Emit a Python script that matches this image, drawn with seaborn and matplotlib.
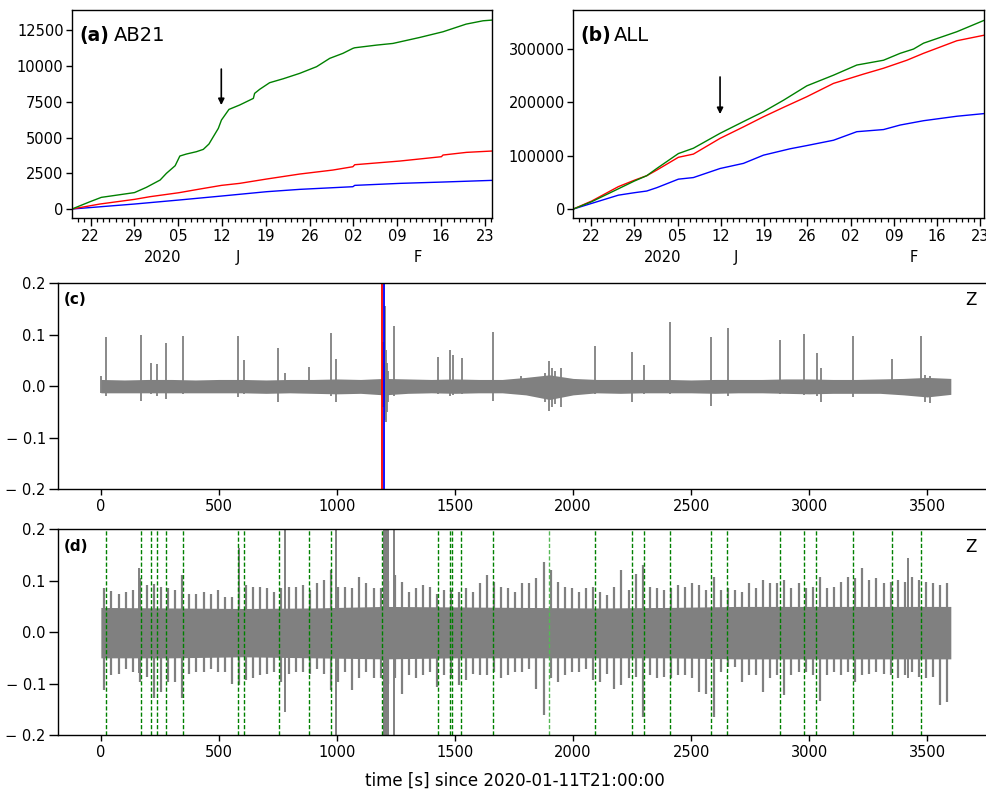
import numpy as np
import pandas as pd
import matplotlib
matplotlib.use("Agg")
import matplotlib.pyplot as plt
import matplotlib.dates as mdates
import seaborn as sns

sns.set_style("ticks")
plt.rcParams["font.family"] = ["DejaVu Sans"]
plt.rcParams["axes.linewidth"] = 1.0
for key in ("axes.edgecolor", "text.color", "axes.labelcolor", "xtick.color", "ytick.color"):
    plt.rcParams[key] = "black"

# ---------------------------------------------------------------------------
# Cumulative event counts; times are days after 2019-12-19 00:00
# ---------------------------------------------------------------------------
BASE = pd.Timestamp("2019-12-19")
ORIGIN_DAY = 23.875  # 2020-01-11T21:00:00

ab21_green_day = [0, 2.9, 4.7, 10.0, 11.9, 14.1, 15.1, 16.5, 17.25, 18.3, 19.9, 21.0,
                  21.9, 22.6, 23.4, 23.9, 25.1, 26.8, 29.0, 29.2, 30.0, 31.6, 33.8,
                  36.4, 39.1, 41.2, 43.3, 44.9, 45.2, 48.7, 51.3, 55.6, 59.3, 63.0,
                  65.7, 67.12]
ab21_green = [0, 513, 816, 1150, 1516, 2029, 2495, 3030, 3708, 3848, 4011, 4174,
              4547, 5060, 5643, 6226, 6970, 7275, 7742, 8092, 8372, 8838, 9118,
              9491, 9958, 10541, 10890, 11240, 11282, 11469, 11585, 12005, 12401,
              12937, 13170, 13217]
ab21_red_day = [0, 4.47, 10.0, 12.46, 17.1, 20.45, 23.9, 26.8, 31.1, 36.4, 41.7,
                44.9, 45.2, 52.4, 59.05, 59.3, 63.05, 67.12]
ab21_red = [0, 350, 676, 862, 1142, 1399, 1655, 1795, 2098, 2448, 2727, 2960,
            3100, 3357, 3661, 3778, 3964, 4058]
ab21_blue_day = [0, 10.0, 17.1, 23.9, 31.1, 36.4, 44.9, 45.2, 52.4, 59.3, 67.12]
ab21_blue = [0, 350, 630, 909, 1212, 1376, 1562, 1655, 1795, 1889, 2005]

all_green_day = [0.13, 3.10, 10.01, 12.01, 13.63, 17.13, 19.56, 23.88, 27.66, 30.9,
                 34.14, 37.92, 42.24, 46.01, 50.33, 53.03, 55.19, 56.81, 62.21, 66.65]
all_green = [0, 13750, 52500, 62500, 76000, 104000, 114000, 142000, 164000, 182500,
             204000, 231000, 251000, 270000, 279000, 292000, 300000, 311000, 332500,
             354000]
all_red_day = [0.13, 3.10, 7.42, 10.01, 12.01, 13.63, 17.13, 19.56, 23.88, 27.66,
               30.9, 34.14, 37.92, 42.24, 47.09, 50.33, 54.11, 56.81, 62.21, 66.65]
all_red = [0, 15000, 42000, 54000, 62500, 73000, 97000, 103000, 132500, 154000,
           173000, 190600, 210600, 235600, 253000, 264000, 279000, 292000, 315600,
           326000]
all_blue_day = [0.13, 3.10, 7.42, 10.01, 12.01, 13.63, 17.13, 19.56, 23.88, 27.66,
                30.9, 35.22, 37.92, 42.24, 46.01, 50.33, 53.03, 56.81, 62.21, 66.65]
all_blue = [0, 10600, 26000, 30600, 33750, 40000, 56000, 59000, 76000, 85600,
            101000, 113000, 119000, 129000, 145000, 149000, 157500, 165600, 174000,
            179000]

# ---------------------------------------------------------------------------
# Vertical-component trace, panel (c): background band, impulsive arrivals
# ---------------------------------------------------------------------------
c_band_t = list(range(0, 3601, 100))
c_band_hi = [0.013, 0.012, 0.013, 0.013, 0.012, 0.013, 0.013, 0.012, 0.013, 0.013,
             0.014, 0.013, 0.015, 0.014, 0.013, 0.014, 0.013, 0.013, 0.017, 0.022,
             0.015, 0.013, 0.013, 0.013, 0.013, 0.012, 0.013, 0.013, 0.013, 0.014,
             0.014, 0.013, 0.013, 0.014, 0.015, 0.017, 0.015]
c_band_lo = [-0.013, -0.013, -0.013, -0.013, -0.013, -0.013, -0.013, -0.014, -0.013, -0.014,
             -0.015, -0.014, -0.017, -0.014, -0.013, -0.014, -0.013, -0.013, -0.017, -0.026,
             -0.017, -0.013, -0.014, -0.013, -0.013, -0.013, -0.014, -0.013, -0.013, -0.014,
             -0.015, -0.014, -0.014, -0.014, -0.017, -0.021, -0.016]
c_spike_t = [2, 21, 169, 213, 236, 277, 350, 583, 608, 752, 782, 882, 974, 998,
             1193, 1202, 1206, 1210, 1215, 1240, 1426, 1478, 1490, 1528, 1663, 1778,
             1880, 1897, 1910, 1925, 1951, 2091, 2250, 2300, 2411, 2585, 2656, 2877,
             2978, 3033, 3050, 3185, 3350, 3472, 3490, 3510]
c_spike_hi = [0.02, 0.095, 0.099, 0.045, 0.043, 0.083, 0.098, 0.098, 0.05, 0.074,
              0.026, 0.037, 0.103, 0.053, 0.085, 0.155, 0.07, 0.045, 0.03, 0.116,
              0.057, 0.07, 0.061, 0.054, 0.106, 0.02, 0.025, 0.049, 0.035, 0.03,
              0.035, 0.078, 0.067, 0.041, 0.124, 0.095, 0.114, 0.09, 0.101, 0.064,
              0.035, 0.097, 0.053, 0.098, 0.022, 0.02]
c_spike_lo = [-0.014, -0.02, -0.028, -0.015, -0.02, -0.025, -0.015, -0.022, -0.015, -0.03,
              -0.012, -0.012, -0.02, -0.03, -0.04, -0.065, -0.07, -0.05, -0.03, -0.02,
              -0.015, -0.02, -0.018, -0.015, -0.028, -0.012, -0.03, -0.049, -0.04, -0.035,
              -0.04, -0.015, -0.03, -0.015, -0.015, -0.038, -0.02, -0.015, -0.018, -0.02,
              -0.031, -0.022, -0.015, -0.02, -0.03, -0.033]
c_pick_red = 1191
c_pick_blue = 1199

# ---------------------------------------------------------------------------
# Panel (d): amplified trace; 30-s peak amplitudes, dense core and picks
# ---------------------------------------------------------------------------
d_core_t = list(range(0, 3601, 300))
d_core_hi = [0.048, 0.047, 0.046, 0.047, 0.05, 0.049, 0.048, 0.047, 0.048, 0.05, 0.05, 0.05, 0.05]
d_core_lo = [-0.05, -0.05, -0.048, -0.05, -0.052, -0.05, -0.05, -0.05, -0.05, -0.052,
             -0.052, -0.052, -0.052]
d_peak_t = list(range(15, 3600, 30))
d_peak_hi = [0.085, 0.080, 0.075, 0.079, 0.082, 0.105, 0.092, 0.093, 0.088, 0.085,
             0.082, 0.111, 0.075, 0.075, 0.079, 0.075, 0.082, 0.069, 0.069, 0.088,
             0.092, 0.088, 0.088, 0.085, 0.079, 0.085, 0.088, 0.088, 0.092, 0.082,
             0.095, 0.101, 0.121, 0.088, 0.088, 0.085, 0.108, 0.095, 0.085, 0.085,
             0.100, 0.111, 0.098, 0.079, 0.085, 0.092, 0.088, 0.075, 0.082, 0.082,
             0.079, 0.085, 0.079, 0.095, 0.111, 0.098, 0.088, 0.085, 0.079, 0.095,
             0.095, 0.105, 0.137, 0.121, 0.098, 0.088, 0.085, 0.079, 0.085, 0.088,
             0.079, 0.072, 0.088, 0.121, 0.082, 0.114, 0.131, 0.088, 0.085, 0.082,
             0.085, 0.092, 0.088, 0.095, 0.092, 0.082, 0.108, 0.082, 0.085, 0.082,
             0.079, 0.095, 0.085, 0.101, 0.095, 0.095, 0.101, 0.085, 0.095, 0.085,
             0.088, 0.108, 0.085, 0.088, 0.098, 0.108, 0.105, 0.124, 0.101, 0.105,
             0.095, 0.098, 0.101, 0.098, 0.108, 0.101, 0.098, 0.095, 0.092, 0.095]
d_peak_lo = [-0.113, -0.084, -0.081, -0.071, -0.077, -0.097, -0.087, -0.129, -0.116, -0.097,
             -0.097, -0.129, -0.081, -0.077, -0.077, -0.071, -0.077, -0.077, -0.100, -0.103,
             -0.094, -0.090, -0.084, -0.081, -0.077, -0.097, -0.081, -0.077, -0.077, -0.081,
             -0.071, -0.081, -0.113, -0.097, -0.077, -0.113, -0.090, -0.077, -0.090, -0.090,
             -0.100, -0.090, -0.120, -0.084, -0.090, -0.084, -0.077, -0.107, -0.084, -0.090,
             -0.103, -0.094, -0.081, -0.084, -0.084, -0.077, -0.090, -0.084, -0.077, -0.077,
             -0.071, -0.110, -0.162, -0.090, -0.097, -0.084, -0.077, -0.077, -0.071, -0.094,
             -0.097, -0.081, -0.110, -0.103, -0.090, -0.087, -0.165, -0.084, -0.090, -0.087,
             -0.090, -0.084, -0.084, -0.090, -0.116, -0.120, -0.165, -0.077, -0.068, -0.068,
             -0.097, -0.084, -0.084, -0.116, -0.090, -0.084, -0.123, -0.084, -0.077, -0.077,
             -0.084, -0.133, -0.084, -0.077, -0.084, -0.077, -0.097, -0.084, -0.081, -0.077,
             -0.081, -0.084, -0.090, -0.084, -0.077, -0.087, -0.090, -0.087, -0.142, -0.136]
d_big_t = [162, 584, 780, 998, 1241, 3417]
d_big_hi = [0.124, 0.163, 0.25, 0.25, 0.25, 0.144]
d_big_lo = [-0.08, -0.10, -0.155, -0.25, -0.25, -0.09]
d_event = (1193, 1222)
d_pick_t = [21, 170, 213, 236, 277, 350, 583, 607, 753, 882, 974, 1191, 1426, 1478,
            1489, 1526, 1663, 2092, 2250, 2300, 2411, 2584, 2654, 2877, 2978, 3031,
            3185, 3350, 3473]
d_pick_faint_t = [1898]

TRACE = "#808080"
TICK_FS = 10.5

fig = plt.figure(figsize=(9.87, 7.92), dpi=100)
ax_a = fig.add_axes([0.0729, 0.7247, 0.4255, 0.2626])
ax_b = fig.add_axes([0.5809, 0.7247, 0.4164, 0.2626])
ax_c = fig.add_axes([0.0591, 0.3826, 0.9473, 0.2597])
ax_d = fig.add_axes([0.0591, 0.0720, 0.9473, 0.2597])


def to_dates(days):
    return BASE + pd.to_timedelta(np.asarray(days, dtype=float), unit="D")


def counts_frame(parts):
    frames = [pd.DataFrame({"date": to_dates(d), "count": v, "series": n})
              for n, d, v in parts]
    return pd.concat(frames, ignore_index=True)


def cumulative_panel(ax, parts, xlim_days, ylim, yticks, tag, name, arrow_vals):
    df = counts_frame(parts)
    sns.lineplot(data=df, x="date", y="count", hue="series",
                 palette={"green": "green", "red": "red", "blue": "blue"},
                 hue_order=["blue", "red", "green"], estimator=None, sort=False,
                 linewidth=1.0, legend=False, ax=ax)
    lo, hi = to_dates(xlim_days)
    ax.set_xlim(lo, hi)
    ax.set_ylim(*ylim)
    ax.set_yticks(yticks)
    ax.set_xlabel("")
    ax.set_ylabel("")
    ax.xaxis.set_major_locator(mdates.WeekdayLocator(byweekday=mdates.SU))
    ax.xaxis.set_major_formatter(mdates.DateFormatter("%d"))
    ax.xaxis.set_minor_locator(mdates.DayLocator())
    ax.tick_params(axis="x", which="major", direction="out", length=5.5, width=1,
                   pad=2.2, labelsize=TICK_FS)
    ax.tick_params(axis="x", which="minor", direction="out", length=3, width=0.9)
    ax.tick_params(axis="y", which="major", direction="out", length=4.5, width=1,
                   pad=1.5, labelsize=TICK_FS)
    tr = ax.get_xaxis_transform()
    for label, day in (("2020", 14.5), ("J", 26.45), ("F", 55.2)):
        ax.text(mdates.date2num(to_dates([day])[0]), -0.192, label, transform=tr,
                ha="center", va="center", fontsize=TICK_FS)
    ax.text(0.018, 0.88, tag, transform=ax.transAxes, fontsize=13.5,
            fontweight="bold", va="center", ha="left")
    ax.text(0.099, 0.88, name, transform=ax.transAxes, fontsize=14,
            va="center", ha="left")
    xa = mdates.date2num(to_dates([ORIGIN_DAY])[0])
    ax.annotate("", xy=(xa, arrow_vals[1]), xytext=(xa, arrow_vals[0]),
                arrowprops=dict(arrowstyle="-|>", color="black", lw=1.2,
                                mutation_scale=9, shrinkA=0, shrinkB=0))


cumulative_panel(ax_a,
                 [("green", ab21_green_day, ab21_green),
                  ("red", ab21_red_day, ab21_red),
                  ("blue", ab21_blue_day, ab21_blue)],
                 [0.01, 67.12], (-630, 13920),
                 [0, 2500, 5000, 7500, 10000, 12500], "(a)", "AB21", (9790, 7270))
cumulative_panel(ax_b,
                 [("green", all_green_day, all_green),
                  ("red", all_red_day, all_red),
                  ("blue", all_blue_day, all_blue)],
                 [0.13, 66.65], (-16900, 373100),
                 [0, 100000, 200000, 300000], "(b)", "ALL", (247600, 178000))

# ---- seismogram panels ----
for ax in (ax_c, ax_d):
    ax.set_xlim(-180, 3780)
    ax.set_ylim(-0.2, 0.2)
    ax.set_xticks([0, 500, 1000, 1500, 2000, 2500, 3000, 3500])
    ax.set_yticks([-0.2, -0.1, 0.0, 0.1, 0.2])
    ax.set_yticklabels(["\u2212 0.2", "\u2212 0.1", "0.0", "0.1", "0.2"])
    ax.tick_params(axis="x", direction="out", length=4.5, width=1, pad=3,
                   labelsize=TICK_FS)
    ax.tick_params(axis="y", direction="out", length=6.5, width=1, pad=2.5,
                   labelsize=TICK_FS)

ax_c.fill_between(c_band_t, c_band_lo, c_band_hi, color=TRACE, lw=0)
ax_c.vlines(c_spike_t, c_spike_lo, c_spike_hi, color=TRACE, lw=1.3)
ax_c.axvline(c_pick_red, color="red", lw=1.3)
ax_c.axvline(c_pick_blue, color="blue", lw=1.3)
ax_c.text(0.006, 0.919, "(c)", transform=ax_c.transAxes, fontsize=11,
          fontweight="bold", va="center", ha="left")
ax_c.text(0.976, 0.919, "Z", transform=ax_c.transAxes, fontsize=12,
          va="center", ha="center")

ax_d.fill_between(d_core_t, d_core_lo, d_core_hi, color=TRACE, lw=0)
ax_d.vlines(d_peak_t, d_peak_lo, d_peak_hi, color=TRACE, lw=1.6)
ax_d.vlines(d_big_t, d_big_lo, d_big_hi, color=TRACE, lw=1.4)
ax_d.axvspan(*d_event, color=TRACE, lw=0)
for t in d_pick_t:
    ax_d.axvline(t, color="green", lw=1.0, ls=(0, (3, 1.5)))
for t in d_pick_faint_t:
    ax_d.axvline(t, color="#55b855", lw=1.0, ls=(0, (3, 1.5)))
ax_d.text(0.006, 0.914, "(d)", transform=ax_d.transAxes, fontsize=11,
          fontweight="bold", va="center", ha="left")
ax_d.text(0.976, 0.914, "Z", transform=ax_d.transAxes, fontsize=12,
          va="center", ha="center")

fig.text(0.5212, 1 - 781 / 792, "time [s] since 2020-01-11T21:00:00",
         fontsize=12, ha="center", va="center")

fig.savefig("out.png", dpi=100)
